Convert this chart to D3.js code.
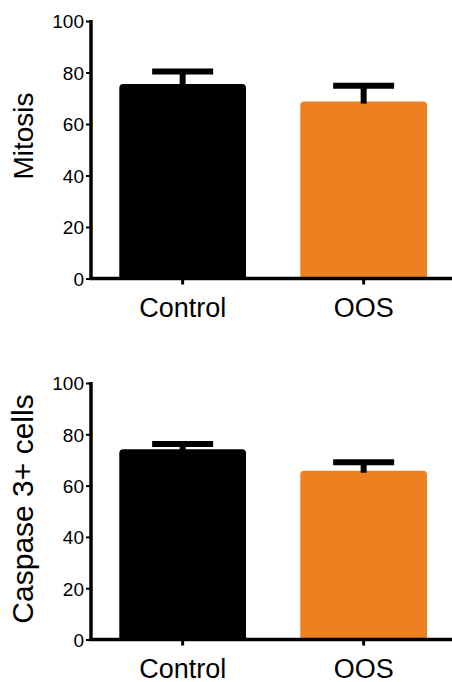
<!DOCTYPE html>
<html>
<head>
<meta charset="utf-8">
<script src="https://cdn.jsdelivr.net/npm/d3@7"></script>
<style>
  html, body { margin: 0; padding: 0; background: #fff; }
  svg { display: block; }
  text { font-family: "Liberation Sans", Arial, Helvetica, sans-serif; fill: #000; }
</style>
</head>
<body>
<svg id="chart" width="452" height="682"></svg>
<script>
const categories = ["Control", "OOS"];
const mitosisMeans = [75.5, 68.7];
const mitosisErrors = [4.9, 6.2];
const caspaseMeans = [74.2, 65.8];
const caspaseErrors = [2.0, 3.3];
const yTickValues = [0, 20, 40, 60, 80, 100];
const barColors = ["#000000", "#EE8020"];
const panelTitles = ["Mitosis", "Caspase 3+ cells"];

const svg = d3.select("#chart");

const panels = [
  { title: panelTitles[0], means: mitosisMeans, errs: mitosisErrors, top: 21, bottom: 278.5, titleSize: 28, titleY: 136 },
  { title: panelTitles[1], means: caspaseMeans, errs: caspaseErrors, top: 383, bottom: 639.5, titleSize: 30, titleY: 509 }
];

const axisX = 91;
const x = d3.scaleBand()
  .domain(categories)
  .range([92.15, 454.15])
  .paddingInner(0.3)
  .paddingOuter(0.15);

function topRoundedBar(x0, y0, w, h, r) {
  r = Math.min(r, w / 2, h);
  return `M${x0},${y0 + h}V${y0 + r}Q${x0},${y0} ${x0 + r},${y0}H${x0 + w - r}Q${x0 + w},${y0} ${x0 + w},${y0 + r}V${y0 + h}Z`;
}

panels.forEach(p => {
  const y = d3.scaleLinear().domain([0, 100]).range([p.bottom, p.top]);
  const g = svg.append("g");
  const data = categories.map((c, i) => ({ c, v: p.means[i], e: p.errs[i], color: barColors[i] }));

  // bars
  g.selectAll("path.bar").data(data).enter().append("path")
    .attr("class", "bar")
    .attr("d", d => topRoundedBar(x(d.c), y(d.v), x.bandwidth(), y(0) - y(d.v), 4))
    .attr("fill", d => d.color);

  // error bars
  const capW = 61;
  g.selectAll("line.stem").data(data).enter().append("line")
    .attr("x1", d => x(d.c) + x.bandwidth() / 2)
    .attr("x2", d => x(d.c) + x.bandwidth() / 2)
    .attr("y1", d => y(d.v) + 2)
    .attr("y2", d => y(d.v + d.e))
    .attr("stroke", "#000").attr("stroke-width", 6);
  g.selectAll("line.cap").data(data).enter().append("line")
    .attr("x1", d => x(d.c) + x.bandwidth() / 2 - capW / 2)
    .attr("x2", d => x(d.c) + x.bandwidth() / 2 + capW / 2)
    .attr("y1", d => y(d.v + d.e))
    .attr("y2", d => y(d.v + d.e))
    .attr("stroke", "#000").attr("stroke-width", 6);

  // y axis
  const yAxis = d3.axisLeft(y).tickValues(yTickValues).tickSize(5).tickPadding(2).tickSizeOuter(0);
  const ya = g.append("g").attr("transform", `translate(${axisX},0)`).call(yAxis);
  ya.select(".domain").attr("stroke", "#000").attr("stroke-width", 3.5)
    .attr("d", `M0,${p.top - 1}V${p.bottom}`);
  ya.selectAll(".tick line").attr("stroke", "#000").attr("stroke-width", 2);
  ya.selectAll(".tick text").style("font-size", "19px").attr("fill", "#000")
    .style("font-family", '"Liberation Sans", Arial, sans-serif').attr("dy", "0.36em");

  // x axis
  const xAxis = d3.axisBottom(x).tickSize(6).tickPadding(13).tickSizeOuter(0);
  const xa = g.append("g").attr("transform", `translate(0,${p.bottom})`).call(xAxis);
  xa.select(".domain").attr("stroke", "#000").attr("stroke-width", 3.5)
    .attr("d", `M${axisX - 1.75},0H460`);
  xa.selectAll(".tick line").attr("stroke", "#000").attr("stroke-width", 3);
  xa.selectAll(".tick text").style("font-size", "27px").attr("fill", "#000")
    .style("font-family", '"Liberation Sans", Arial, sans-serif');

  // y title
  g.append("text")
    .attr("transform", `translate(33,${p.titleY}) rotate(-90)`)
    .attr("text-anchor", "middle")
    .style("font-size", p.titleSize + "px")
    .text(p.title);
});
</script>
</body>
</html>
